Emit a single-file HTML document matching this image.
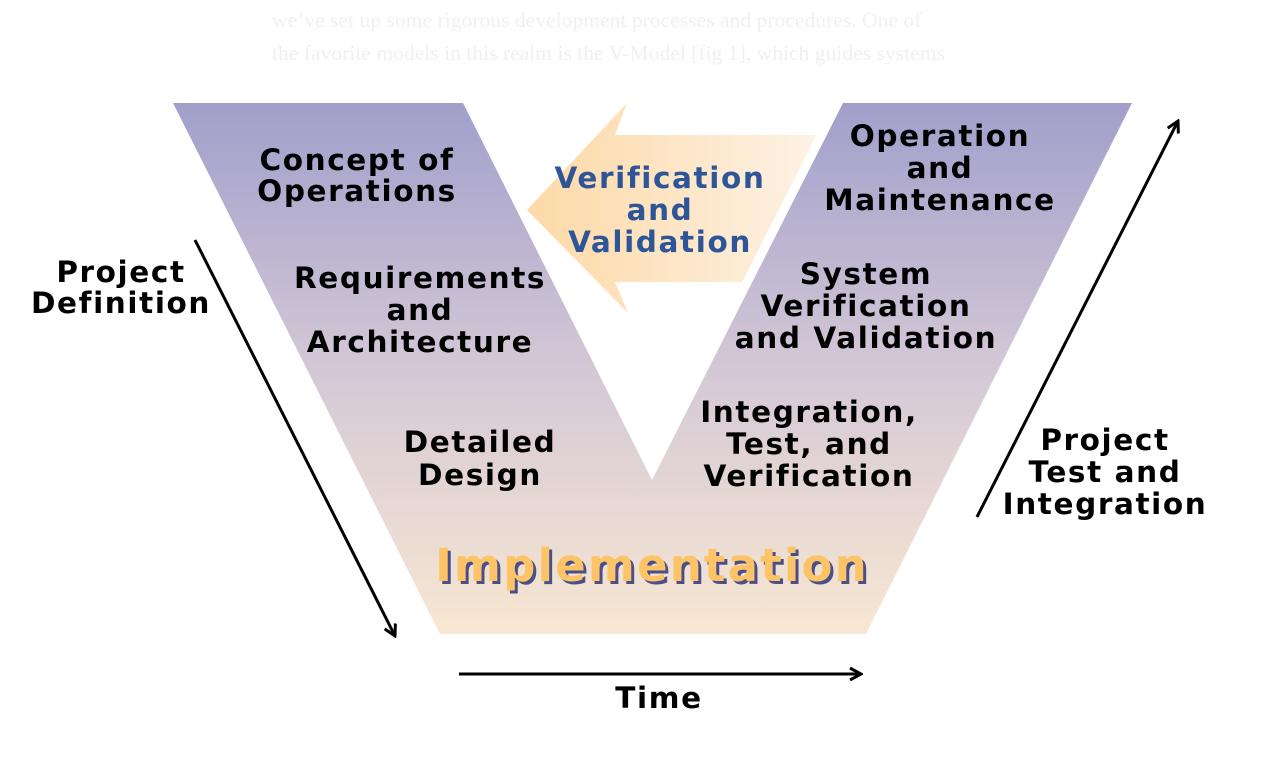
<!DOCTYPE html>
<html><head><meta charset="utf-8"><style>
body{margin:0;background:#fff;width:1281px;height:759px;overflow:hidden}
</style></head><body>
<svg width="1281" height="759" viewBox="0 0 1281 759" xmlns="http://www.w3.org/2000/svg">
<defs>
<linearGradient id="vg" x1="0" y1="103" x2="0" y2="634" gradientUnits="userSpaceOnUse">
<stop offset="0" stop-color="#a19fcb"/>
<stop offset="0.5" stop-color="#d4c8d6"/>
<stop offset="1" stop-color="#f8e7d2"/>
</linearGradient>
<linearGradient id="ag" x1="527" y1="0" x2="830" y2="0" gradientUnits="userSpaceOnUse">
<stop offset="0" stop-color="#fdd9a6"/>
<stop offset="1" stop-color="#fdf3e8"/>
</linearGradient>
<marker id="ah" markerWidth="14" markerHeight="14" refX="12" refY="7" orient="auto" markerUnits="userSpaceOnUse">
<path d="M1,1 L12,7 L1,13" fill="none" stroke="#000" stroke-width="3"/>
</marker>
</defs>
<g font-family="Liberation Serif, serif" font-size="21.6" fill="#f4eeee">
<text x="272" y="27">we’ve set up some rigorous development processes and procedures. One of</text>
<text x="272" y="60">the favorite models in this realm is the V-Model [fig 1], which guides systems</text>
</g>
<polygon points="527,210 627,103 615,135 900,135 900,282 615,282 628,313" fill="url(#ag)"/>
<polygon points="173,103 463,103 652,480 843,103 1132,103 866,634 440,634" fill="url(#vg)" stroke="#fff" stroke-width="18" stroke-linejoin="miter"/>
<polygon points="173,103 463,103 652,480 843,103 1132,103 866,634 440,634" fill="url(#vg)"/>
<g font-family="DejaVu Sans, sans-serif" font-weight="bold" font-size="29.5" letter-spacing="1.6" text-anchor="middle" fill="#000">
<text x="357" y="170">Concept of</text><text x="357" y="201">Operations</text>
<text x="420" y="288">Requirements</text><text x="420" y="320">and</text><text x="420" y="352">Architecture</text>
<text x="480" y="452">Detailed</text><text x="480" y="485">Design</text>
<text x="940" y="146">Operation</text><text x="940" y="178">and</text><text x="940" y="210">Maintenance</text>
<text x="866" y="284">System</text><text x="866" y="316">Verification</text><text x="866" y="348">and Validation</text>
<text x="809" y="422">Integration,</text><text x="809" y="454">Test, and</text><text x="809" y="486">Verification</text>
<text x="121" y="282">Project</text><text x="121" y="313">Definition</text>
<text x="1105" y="450">Project</text><text x="1105" y="482">Test and</text><text x="1105" y="514">Integration</text>
<text x="659" y="708">Time</text>
<text x="660" y="188" fill="#2e5597">Verification</text><text x="660" y="220" fill="#2e5597">and</text><text x="660" y="252" fill="#2e5597">Validation</text>
<text x="655" y="584" font-size="45" letter-spacing="2.2" fill="#4a4f8a">Implementation</text>
<text x="652" y="581" font-size="45" letter-spacing="2.2" fill="#fcc466">Implementation</text>
</g>
<g stroke="#000" stroke-width="3" fill="none">
<line x1="195" y1="240" x2="395" y2="636" marker-end="url(#ah)"/>
<line x1="977" y1="517" x2="1178" y2="121" marker-end="url(#ah)"/>
<line x1="459" y1="674" x2="861" y2="674" marker-end="url(#ah)"/>
</g>
</svg>
</body></html>
